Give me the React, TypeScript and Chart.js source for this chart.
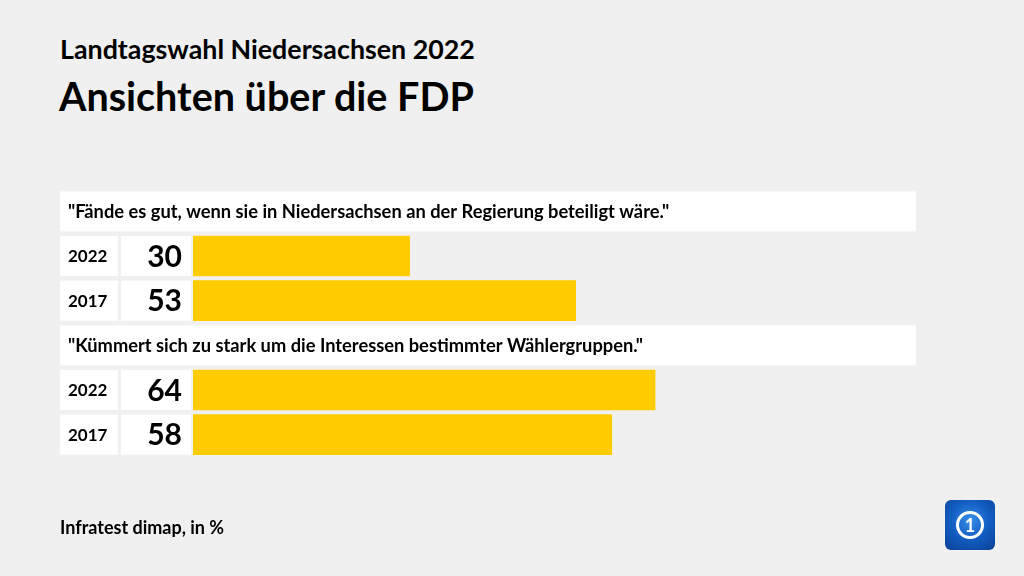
import React, { useEffect, useRef } from "react";
import { Chart, registerables } from "chart.js";

Chart.register(...registerables);

const questions = [
  '"Fände es gut, wenn sie in Niedersachsen an der Regierung beteiligt wäre."',
  '"Kümmert sich zu stark um die Interessen bestimmter Wählergruppen."',
];
const years = ["2022", "2017"];
const values2022 = [30, 64];
const values2017 = [53, 58];

const FONT = "Lato, 'Open Sans', sans-serif";
const BAR_COLOR = "#ffcc00";
const BG = "#f0f0f0";

type Row = { kind: "q" | "d"; label: string; value: number | null };

const rows: Row[] = [];
questions.forEach((q, i) => {
  rows.push({ kind: "q", label: q, value: null });
  rows.push({ kind: "d", label: years[0], value: values2022[i] });
  rows.push({ kind: "d", label: years[1], value: values2017[i] });
});

const rowPlugin = {
  id: "rowPlugin",
  beforeDatasetsDraw(chart: any) {
    const ctx = chart.ctx;
    const y = chart.scales.y;
    ctx.save();
    ctx.fillStyle = "#ffffff";
    rows.forEach((r, i) => {
      const cy = y.getPixelForValue(i);
      const top = cy - 20;
      if (r.kind === "q") {
        ctx.fillRect(60, top, 856, 40);
      } else {
        ctx.fillRect(60, top, 58, 40);
        ctx.fillRect(121, top, 70, 40);
      }
    });
    ctx.restore();
  },
  afterDatasetsDraw(chart: any) {
    const ctx = chart.ctx;
    const y = chart.scales.y;
    ctx.save();
    ctx.fillStyle = "#000";
    ctx.textBaseline = "middle";
    rows.forEach((r, i) => {
      const cy = y.getPixelForValue(i);
      if (r.kind === "q") {
        ctx.font = `bold 18.3px ${FONT}`;
        ctx.textAlign = "left";
        ctx.fillText(r.label, 68, cy + 1);
      } else {
        ctx.font = `bold 17px ${FONT}`;
        ctx.textAlign = "left";
        ctx.fillText(r.label, 68, cy + 1);
        ctx.font = `bold 30px ${FONT}`;
        ctx.textAlign = "right";
        ctx.fillText(String(r.value), 182, cy + 1);
      }
    });
    ctx.restore();
  },
};

export default function App() {
  const ref = useRef<HTMLCanvasElement | null>(null);
  useEffect(() => {
    if (!ref.current) return;
    const chart = new Chart(ref.current, {
      type: "bar",
      data: {
        labels: rows.map((r) => r.label),
        datasets: [
          {
            data: rows.map((r) => r.value) as any,
            backgroundColor: BAR_COLOR,
            barThickness: 40,
            borderWidth: 0,
          },
        ],
      },
      options: {
        indexAxis: "y",
        responsive: false,
        animation: false,
        devicePixelRatio: 1,
        layout: { padding: { left: 193, right: 109, top: 189, bottom: 119 } },
        plugins: { legend: { display: false }, tooltip: { enabled: false } },
        scales: {
          x: { display: false, min: 0, max: 100 },
          y: { display: false },
        },
      },
      plugins: [rowPlugin],
    });
    return () => chart.destroy();
  }, []);

  return (
    <div
      style={{
        position: "absolute",
        left: 0,
        top: 0,
        width: 1024,
        height: 576,
        background: BG,
        fontFamily: FONT,
        color: "#000",
        overflow: "hidden",
      }}
    >
      <div style={{ position: "absolute", left: 60, top: 34, fontSize: 26.8, fontWeight: 700, lineHeight: "30px" }}>
        Landtagswahl Niedersachsen 2022
      </div>
      <div style={{ position: "absolute", left: 59, top: 72, fontSize: 39.5, fontWeight: 700, lineHeight: "48px" }}>
        Ansichten über die FDP
      </div>
      <canvas ref={ref} width={1024} height={576} style={{ position: "absolute", left: 0, top: 0 }} />
      <div style={{ position: "absolute", left: 60, top: 516, fontSize: 18, fontWeight: 700, lineHeight: "22px" }}>
        Infratest dimap, in %
      </div>
      <div
        style={{
          position: "absolute",
          left: 945,
          top: 500,
          width: 50,
          height: 50,
          borderRadius: 6,
          background: "radial-gradient(circle at 50% 40%, #3a8ee8 0%, #1360c4 45%, #0a3f95 100%)",
        }}
      >
        <div
          style={{
            position: "absolute",
            left: 11,
            top: 11,
            width: 22,
            height: 22,
            borderRadius: "50%",
            border: "3px solid #fff",
            color: "#fff",
            fontWeight: 700,
            fontSize: 18,
            lineHeight: "22px",
            textAlign: "center",
          }}
        >
          1
        </div>
      </div>
    </div>
  );
}
